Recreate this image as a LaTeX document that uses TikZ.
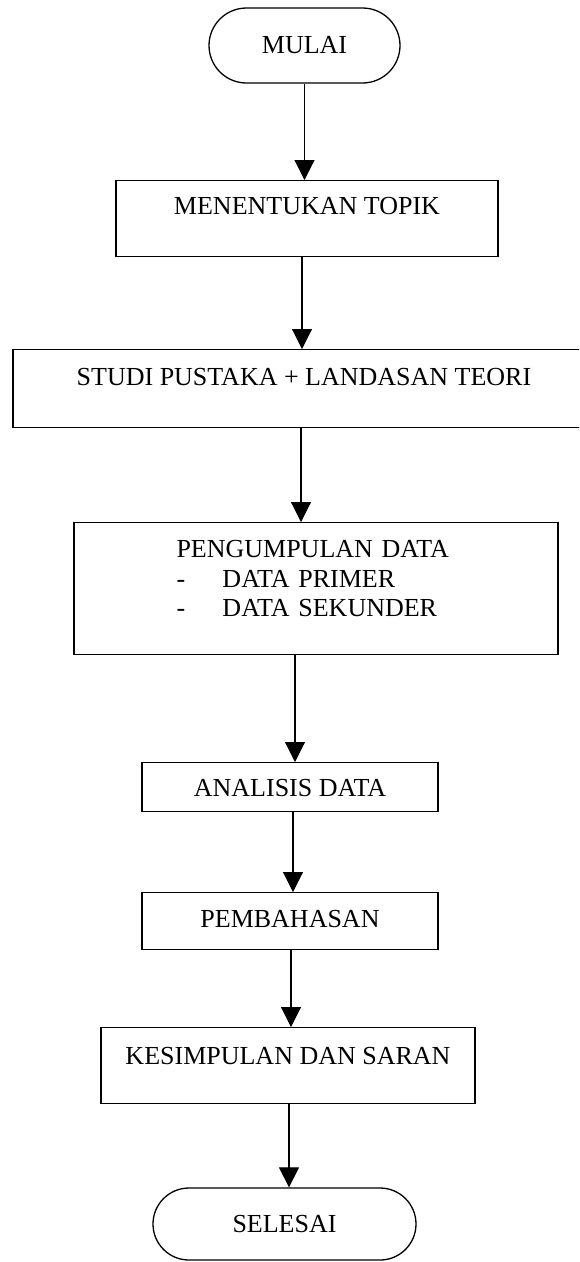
\documentclass[tikz,border=0pt]{standalone}
\usepackage{fontspec}
\setmainfont{Liberation Serif}
\usetikzlibrary{arrows.meta,shapes.misc}

\tikzset{
  procbox/.style={draw, line width=1.3pt, rectangle, inner sep=0pt, font=\fontsize{26}{29.5}\selectfont},
  termbox/.style={draw, line width=1.3pt, rounded rectangle, inner sep=0pt, font=\fontsize{26}{29.5}\selectfont},
  flowarrow/.style={line width=1.1pt, -{Triangle[length=20pt,width=20pt]}}
}

\begin{document}
\begin{tikzpicture}[x=1pt,y=-1pt]
\useasboundingbox (0,0) rectangle (579,1262);
\fill[white] (0,0) rectangle (579,1262);
\clip (0,0) rectangle (579,1262);
% start and end
\node[termbox, minimum width=191pt, minimum height=75pt] (mulai) at (304.5,45.5) {MULAI};
\node[termbox, minimum width=263pt, minimum height=72pt] (selesai) at (284.5,1224) {SELESAI};
% steps
\node[procbox, anchor=north, minimum width=382pt, text height=34pt, text depth=42pt] (topik) at (307,180) {MENENTUKAN TOPIK};
\node[procbox, anchor=north, minimum width=582pt, text height=36pt, text depth=42pt] (studi) at (304,349) {STUDI PUSTAKA + LANDASAN TEORI};
\node[procbox, anchor=north, minimum width=484pt, text width=279pt, align=left, text height=35pt, text depth=97pt] (kumpul) at (316,522) {PENGUMPULAN DATA\\
\makebox[46pt][l]{-}DATA PRIMER\\
\makebox[46pt][l]{-}DATA SEKUNDER};
\node[procbox, anchor=north, minimum width=296pt, text height=34pt, text depth=15pt] (analisis) at (290,762) {ANALISIS DATA};
\node[procbox, anchor=north, minimum width=296pt, text height=35pt, text depth=22pt] (bahas) at (290,892) {PEMBAHASAN};
\node[procbox, anchor=north, minimum width=374pt, text height=37pt, text depth=39pt] (simpul) at (288,1027) {KESIMPULAN DAN SARAN};
% arrows
\draw[flowarrow] (mulai.south) -- (mulai.south |- topik.north);
\draw[flowarrow] ([xshift=-5pt]topik.south) -- ([xshift=-5pt]topik.south |- studi.north);
\draw[flowarrow] ([xshift=-3pt]studi.south) -- ([xshift=-3pt]studi.south |- kumpul.north);
\draw[flowarrow] ([xshift=-21pt]kumpul.south) -- ([xshift=-21pt]kumpul.south |- analisis.north);
\draw[flowarrow] ([xshift=3pt]analisis.south) -- ([xshift=3pt]analisis.south |- bahas.north);
\draw[flowarrow] ([xshift=1pt]bahas.south) -- ([xshift=1pt]bahas.south |- simpul.north);
\draw[flowarrow] ([xshift=1pt]simpul.south) -- ([xshift=1pt]simpul.south |- selesai.north);
\end{tikzpicture}
\end{document}
